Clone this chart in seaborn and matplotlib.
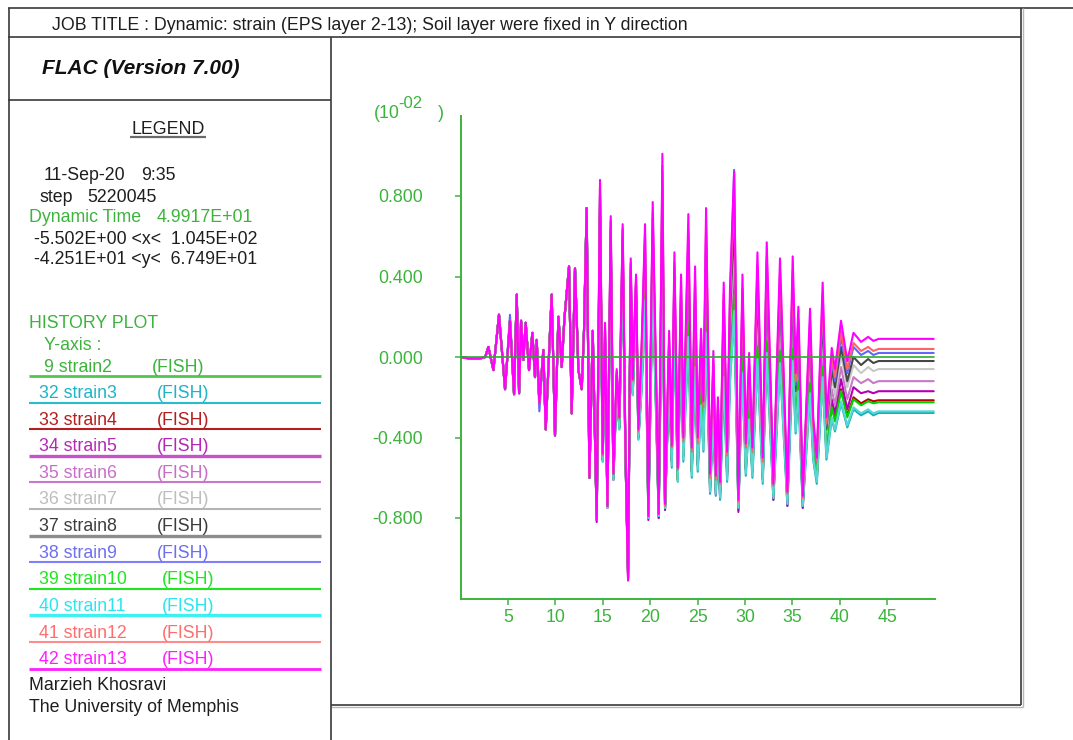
import matplotlib
matplotlib.use("Agg")
import matplotlib.pyplot as plt
import numpy as np
import pandas as pd
import seaborn as sns

# ---------------------------------------------------------------- data
# dynamic time (s) at the sampled turning points of the histories
time_s = [0.00, 1.00, 2.00, 2.60, 2.93, 3.46, 4.05, 4.69, 5.21, 5.64, 5.92, 6.17, 6.38, 6.62,
          6.87, 7.22, 7.57, 7.85, 8.03, 8.31, 8.73, 8.98, 9.26, 9.61, 9.96, 10.32, 10.67, 10.95,
          11.44, 11.72, 12.07, 12.43, 12.78, 13.02, 13.30, 13.59, 13.94, 14.36, 14.71, 14.99,
          15.24, 15.49, 15.84, 16.12, 16.47, 16.75, 17.10, 17.39, 17.67, 17.95, 18.16, 18.51,
          18.76, 19.11, 19.46, 19.81, 20.27, 20.62, 20.90, 21.29, 21.57, 22.00, 22.28, 22.56,
          22.91, 23.26, 23.50, 24.03, 24.39, 24.74, 25.02, 25.37, 25.62, 25.90, 26.32, 26.67,
          26.92, 27.15, 27.38, 27.76, 28.12, 28.43, 28.86, 29.31, 29.74, 30.09, 30.44, 30.79,
          31.32, 31.88, 32.30, 33.00, 33.70, 34.48, 35.04, 35.35, 35.64, 36.10, 36.87, 37.20,
          37.58, 38.20, 38.60, 39.16, 39.50, 40.14, 40.80, 41.45, 42.25, 43.00, 43.55, 44.10,
          49.917]

# strain histories, units of 1e-2
strain2_t = [0.0, 49.917]
strain2 = [0.0, 0.0]

strain3 = [0.0, -0.008, -0.008, 0.0, 0.05, -0.065, 0.21, -0.16, 0.18, -0.185, 0.31, -0.18, 0.18, -0.015,
           0.17, -0.065, 0.12, -0.10, 0.085, -0.23, 0.035, -0.36, -0.06, 0.31, -0.39, 0.20, -0.05, 0.19,
           0.45, -0.28, 0.44, -0.065, -0.16, 0.13, 0.74, -0.60, 0.13,
           -0.81, 0.68, -0.52, 0.05, -0.75, 0.52, -0.61, -0.15, -0.36, 0.48, -0.49, -1.07, 0.33, -0.19, 0.26, -0.41,
           -0.16, 0.27, -0.80, 0.35, -0.28, -0.80, 0.53, -0.76, -0.12, -0.55, 0.16, -0.62, 0.08, -0.52,
           0.09, -0.60, -0.06, -0.57, -0.25, -0.47, 0.11, -0.68, -0.32, -0.69, -0.45, -0.71, -0.11, -0.62,
           -0.12, 0.22, -0.76, -0.09, -0.59, -0.32, -0.60, -0.02, -0.63, 0.01, -0.71, -0.04, -0.74, -0.03,
           -0.38, -0.18, -0.75, -0.19, -0.51, -0.63, -0.11, -0.51, -0.31, -0.37, -0.23, -0.35, -0.26, -0.29,
           -0.27, -0.29, -0.278, -0.278]

strain4 = [0.0, -0.008, -0.008, 0.0, 0.05, -0.065, 0.21, -0.16, 0.18, -0.185, 0.31, -0.18, 0.18, -0.015,
           0.17, -0.065, 0.12, -0.10, 0.085, -0.23, 0.035, -0.36, -0.06, 0.31, -0.39, 0.20, -0.05, 0.19,
           0.45, -0.28, 0.44, -0.065, -0.16, 0.13, 0.74, -0.60, 0.13,
           -0.80, 0.70, -0.51, 0.07, -0.74, 0.54, -0.60, -0.14, -0.35, 0.51, -0.48, -1.07, 0.36, -0.18, 0.28, -0.40,
           -0.12, 0.33, -0.78, 0.41, -0.24, -0.78, 0.60, -0.74, -0.08, -0.51, 0.22, -0.60, 0.14, -0.48,
           0.18, -0.56, 0.02, -0.53, -0.18, -0.41, 0.20, -0.64, -0.25, -0.65, -0.40, -0.67, -0.04, -0.57,
           -0.04, 0.32, -0.73, -0.01, -0.55, -0.26, -0.56, 0.06, -0.59, 0.09, -0.68, 0.04, -0.70, 0.05,
           -0.32, -0.11, -0.72, -0.12, -0.47, -0.59, -0.04, -0.47, -0.24, -0.31, -0.16, -0.29, -0.20, -0.23,
           -0.21, -0.22, -0.215, -0.215]

strain5 = [0.0, -0.008, -0.008, 0.0, 0.05, -0.065, 0.21, -0.16, 0.18, -0.185, 0.31, -0.18, 0.18, -0.015,
           0.17, -0.065, 0.12, -0.10, 0.085, -0.23, 0.035, -0.36, -0.06, 0.31, -0.39, 0.20, -0.05, 0.19,
           0.45, -0.28, 0.44, -0.065, -0.16, 0.13, 0.74, -0.60, 0.13,
           -0.82, 0.74, -0.51, 0.08, -0.75, 0.57, -0.61, -0.13, -0.35, 0.54, -0.49, -1.10, 0.38, -0.17, 0.31, -0.40,
           -0.09, 0.39, -0.81, 0.48, -0.22, -0.80, 0.68, -0.76, -0.05, -0.52, 0.28, -0.61, 0.18, -0.49,
           0.29, -0.57, 0.09, -0.54, -0.14, -0.40, 0.31, -0.67, -0.22, -0.68, -0.39, -0.70, 0.03, -0.59,
           0.03, 0.44, -0.77, 0.06, -0.56, -0.23, -0.57, 0.14, -0.61, 0.18, -0.71, 0.12, -0.74, 0.13,
           -0.30, -0.06, -0.75, -0.06, -0.46, -0.61, 0.03, -0.46, -0.21, -0.28, -0.11, -0.26, -0.15, -0.18,
           -0.17, -0.18, -0.17, -0.17]

strain6 = [0.0, -0.008, -0.008, 0.0, 0.05, -0.065, 0.21, -0.16, 0.18, -0.185, 0.31, -0.18, 0.18, -0.015,
           0.17, -0.065, 0.12, -0.10, 0.085, -0.23, 0.035, -0.36, -0.06, 0.31, -0.39, 0.20, -0.05, 0.19,
           0.45, -0.28, 0.44, -0.065, -0.16, 0.13, 0.74, -0.60, 0.13,
           -0.81, 0.77, -0.51, 0.10, -0.75, 0.60, -0.60, -0.11, -0.34, 0.56, -0.48, -1.09, 0.40, -0.16, 0.33, -0.39,
           -0.05, 0.44, -0.80, 0.54, -0.19, -0.79, 0.74, -0.75, -0.01, -0.50, 0.32, -0.59, 0.23, -0.47,
           0.36, -0.54, 0.16, -0.50, -0.08, -0.36, 0.39, -0.64, -0.17, -0.65, -0.35, -0.67, 0.10, -0.56,
           0.09, 0.53, -0.74, 0.13, -0.53, -0.17, -0.54, 0.22, -0.58, 0.25, -0.68, 0.19, -0.71, 0.20,
           -0.25, 0.01, -0.73, 0.00, -0.42, -0.58, 0.10, -0.42, -0.16, -0.24, -0.05, -0.21, -0.10, -0.13,
           -0.11, -0.13, -0.12, -0.12]

strain7 = [0.0, -0.008, -0.008, 0.0, 0.05, -0.065, 0.21, -0.16, 0.18, -0.185, 0.31, -0.18, 0.18, -0.015,
           0.17, -0.065, 0.12, -0.10, 0.085, -0.23, 0.035, -0.36, -0.06, 0.31, -0.39, 0.20, -0.05, 0.19,
           0.45, -0.28, 0.44, -0.065, -0.16, 0.13, 0.74, -0.60, 0.13,
           -0.81, 0.79, -0.50, 0.12, -0.74, 0.62, -0.59, -0.10, -0.32, 0.58, -0.47, -1.09, 0.42, -0.15, 0.35, -0.38,
           -0.02, 0.49, -0.79, 0.59, -0.16, -0.78, 0.80, -0.73, 0.03, -0.48, 0.37, -0.57, 0.27, -0.44,
           0.45, -0.51, 0.23, -0.47, -0.02, -0.32, 0.47, -0.61, -0.11, -0.62, -0.30, -0.65, 0.17, -0.52,
           0.16, 0.62, -0.72, 0.20, -0.49, -0.12, -0.51, 0.29, -0.55, 0.33, -0.65, 0.26, -0.69, 0.27,
           -0.20, 0.07, -0.70, 0.06, -0.38, -0.55, 0.17, -0.38, -0.10, -0.19, 0.01, -0.15, -0.04, -0.08,
           -0.05, -0.07, -0.06, -0.06]

strain8 = [0.0, -0.008, -0.008, 0.0, 0.05, -0.065, 0.21, -0.16, 0.18, -0.185, 0.31, -0.18, 0.18, -0.015,
           0.17, -0.065, 0.12, -0.10, 0.085, -0.23, 0.035, -0.36, -0.06, 0.31, -0.39, 0.20, -0.05, 0.19,
           0.45, -0.28, 0.44, -0.065, -0.16, 0.13, 0.74, -0.60, 0.13,
           -0.81, 0.81, -0.49, 0.13, -0.74, 0.64, -0.59, -0.09, -0.32, 0.60, -0.46, -1.09, 0.44, -0.14, 0.36, -0.37,
           0.01, 0.53, -0.78, 0.63, -0.14, -0.77, 0.85, -0.73, 0.05, -0.47, 0.41, -0.57, 0.31, -0.43,
           0.51, -0.49, 0.29, -0.44, 0.02, -0.29, 0.54, -0.60, -0.07, -0.61, -0.27, -0.63, 0.22, -0.50,
           0.21, 0.69, -0.71, 0.25, -0.47, -0.08, -0.49, 0.35, -0.53, 0.39, -0.64, 0.32, -0.68, 0.33,
           -0.17, 0.12, -0.69, 0.11, -0.36, -0.53, 0.22, -0.36, -0.06, -0.15, 0.05, -0.12, 0.00, -0.04,
           -0.01, -0.03, -0.02, -0.02]

strain9 = [0.0, -0.008, -0.008, 0.0, 0.05, -0.065, 0.21, -0.16, 0.21, -0.185, 0.31, -0.18, 0.18, -0.015,
           0.17, -0.065, 0.12, -0.10, 0.085, -0.27, 0.035, -0.36, -0.06, 0.31, -0.39, 0.20, -0.05, 0.19,
           0.45, -0.28, 0.44, -0.065, -0.16, 0.13, 0.74, -0.60, 0.13,
           -0.81, 0.84, -0.49, 0.15, -0.74, 0.67, -0.59, -0.08, -0.31, 0.63, -0.46, -1.11, 0.46, -0.13, 0.38, -0.37,
           0.03, 0.59, -0.80, 0.69, -0.12, -0.79, 0.92, -0.74, 0.08, -0.46, 0.45, -0.57, 0.35, -0.42,
           0.60, -0.48, 0.35, -0.44, 0.07, -0.27, 0.62, -0.60, -0.04, -0.61, -0.25, -0.64, 0.28, -0.50,
           0.27, 0.93, -0.73, 0.32, -0.47, -0.05, -0.48, 0.42, -0.53, 0.47, -0.65, 0.39, -0.69, 0.40,
           -0.14, 0.17, -0.71, 0.16, -0.34, -0.53, 0.28, -0.34, -0.02, -0.12, 0.10, -0.08, 0.05, 0.01,
           0.03, 0.01, 0.02, 0.02]

strain10 = [0.0, -0.008, -0.008, 0.0, 0.05, -0.065, 0.21, -0.16, 0.18, -0.185, 0.31, -0.18, 0.18, -0.015,
            0.17, -0.065, 0.12, -0.10, 0.085, -0.23, 0.035, -0.36, -0.06, 0.31, -0.39, 0.20, -0.05, 0.19,
            0.45, -0.28, 0.44, -0.065, -0.16, 0.13, 0.74, -0.60, 0.13,
            -0.80, 0.70, -0.51, 0.07, -0.74, 0.54, -0.60, -0.14, -0.35, 0.51, -0.48, -1.07, 0.36, -0.18, 0.28, -0.40,
            -0.13, 0.32, -0.79, 0.40, -0.25, -0.79, 0.59, -0.75, -0.09, -0.52, 0.21, -0.61, 0.13, -0.49,
            0.17, -0.57, 0.01, -0.54, -0.19, -0.42, 0.19, -0.65, -0.26, -0.66, -0.41, -0.68, -0.05, -0.58,
            -0.05, 0.31, -0.74, -0.02, -0.56, -0.27, -0.57, 0.05, -0.60, 0.08, -0.69, 0.03, -0.71, 0.04,
            -0.33, -0.12, -0.73, -0.13, -0.48, -0.60, -0.05, -0.48, -0.25, -0.32, -0.17, -0.30, -0.21, -0.24,
            -0.22, -0.23, -0.225, -0.225]

strain11 = [0.0, -0.008, -0.008, 0.0, 0.05, -0.065, 0.21, -0.16, 0.18, -0.185, 0.31, -0.18, 0.18, -0.015,
            0.17, -0.065, 0.12, -0.10, 0.085, -0.23, 0.035, -0.36, -0.06, 0.31, -0.39, 0.20, -0.05, 0.19,
            0.45, -0.28, 0.44, -0.065, -0.16, 0.13, 0.74, -0.60, 0.13,
            -0.81, 0.68, -0.52, 0.05, -0.75, 0.52, -0.61, -0.15, -0.36, 0.48, -0.49, -1.07, 0.33, -0.19, 0.26, -0.41,
            -0.15, 0.28, -0.80, 0.36, -0.27, -0.79, 0.54, -0.75, -0.11, -0.54, 0.17, -0.62, 0.09, -0.51,
            0.10, -0.59, -0.05, -0.56, -0.24, -0.46, 0.12, -0.67, -0.31, -0.68, -0.44, -0.70, -0.10, -0.61,
            -0.11, 0.23, -0.75, -0.08, -0.58, -0.31, -0.59, -0.01, -0.62, 0.02, -0.70, -0.03, -0.73, -0.02,
            -0.37, -0.17, -0.74, -0.18, -0.50, -0.62, -0.10, -0.50, -0.30, -0.36, -0.22, -0.34, -0.25, -0.28,
            -0.26, -0.28, -0.27, -0.27]

strain12 = [0.0, -0.008, -0.008, 0.0, 0.05, -0.065, 0.21, -0.16, 0.18, -0.185, 0.31, -0.18, 0.18, -0.015,
            0.17, -0.065, 0.12, -0.10, 0.085, -0.23, 0.035, -0.36, -0.06, 0.31, -0.39, 0.20, -0.05, 0.19,
            0.45, -0.28, 0.44, -0.065, -0.16, 0.13, 0.74, -0.60, 0.13,
            -0.81, 0.85, -0.49, 0.15, -0.74, 0.68, -0.58, -0.07, -0.31, 0.64, -0.46, -1.11, 0.47, -0.12, 0.39, -0.37,
            0.05, 0.61, -0.79, 0.72, -0.11, -0.78, 0.95, -0.74, 0.10, -0.45, 0.47, -0.56, 0.37, -0.42,
            0.63, -0.47, 0.38, -0.43, 0.09, -0.25, 0.66, -0.60, -0.02, -0.61, -0.24, -0.63, 0.31, -0.49,
            0.30, 0.83, -0.72, 0.34, -0.45, -0.03, -0.47, 0.45, -0.52, 0.50, -0.64, 0.42, -0.68, 0.43,
            -0.12, 0.19, -0.70, 0.18, -0.33, -0.52, 0.31, -0.33, 0.00, -0.10, 0.13, -0.06, 0.07, 0.03,
            0.05, 0.03, 0.04, 0.04]

strain13 = [0.0, -0.008, -0.008, 0.0, 0.05, -0.065, 0.21, -0.16, 0.18, -0.185, 0.31, -0.18, 0.18, -0.015,
            0.17, -0.065, 0.12, -0.10, 0.085, -0.23, 0.035, -0.36, -0.06, 0.31, -0.39, 0.20, -0.05, 0.19,
            0.45, -0.28, 0.44, -0.065, -0.16, 0.13, 0.74, -0.60, 0.13,
            -0.81, 0.88, -0.48, 0.17, -0.74, 0.70, -0.58, -0.06, -0.30, 0.66, -0.45, -1.11, 0.49, -0.11, 0.41, -0.36,
            0.08, 0.66, -0.79, 0.77, -0.08, -0.78, 1.01, -0.73, 0.13, -0.44, 0.52, -0.55, 0.41, -0.40,
            0.71, -0.45, 0.45, -0.40, 0.14, -0.22, 0.74, -0.58, 0.03, -0.59, -0.20, -0.62, 0.37, -0.47,
            0.36, 0.92, -0.71, 0.41, -0.43, 0.02, -0.45, 0.52, -0.50, 0.57, -0.63, 0.49, -0.67, 0.50,
            -0.08, 0.25, -0.69, 0.24, -0.30, -0.50, 0.37, -0.30, 0.045, -0.06, 0.18, -0.02, 0.12, 0.075,
            0.10, 0.08, 0.09, 0.09]

history_ids = [9, 32, 33, 34, 35, 36, 37, 38, 39, 40, 41, 42]
history_names = ["strain2", "strain3", "strain4", "strain5", "strain6", "strain7",
                 "strain8", "strain9", "strain10", "strain11", "strain12", "strain13"]
x_ticks = [5, 10, 15, 20, 25, 30, 35, 40, 45]
y_ticks = [-0.8, -0.4, 0.0, 0.4, 0.8]

# ---------------------------------------------------------------- styling
line_colors = ["#2aae2a", "#18b0b4", "#c00000", "#b400b4", "#c878c8", "#c8c8c8",
               "#464646", "#6464ff", "#00d200", "#58d6d6", "#ff6464", "#ff00ff"]
text_colors = ["#3cb43c", "#1eb4c8", "#b41e1e", "#b428b4", "#c86ec8", "#bebebe",
               "#3c3c3c", "#6e6ef0", "#1ee61e", "#28e6f0", "#ff6e6e", "#ff1eff"]
rule_colors = ["#50c850", "#28bec8", "#b41e1e", "#c850c8", "#c878c8", "#b4b4b4",
               "#8c8c8c", "#8080ff", "#1ee61e", "#40f0f0", "#ff8c8c", "#ff1eff"]
rule_widths = [2.0, 1.5, 1.5, 2.4, 1.5, 1.5, 2.4, 1.5, 1.5, 2.4, 1.5, 2.0]
GREEN = "#3cb43c"
INK = "#1e1e1e"
FRAME = "#3a3a3a"
FS = 12.8

sns.set_theme(style="white")
plt.rcParams["font.family"] = ["Liberation Sans", "DejaVu Sans"]
plt.rcParams["axes.unicode_minus"] = False

# ---------------------------------------------------------------- long-form table
series_values = [strain2, strain3, strain4, strain5, strain6, strain7, strain8,
                 strain9, strain10, strain11, strain12, strain13]
frames = []
for name, vals in zip(history_names, series_values):
    t = strain2_t if name == "strain2" else time_s
    frames.append(pd.DataFrame({"time": t, "strain": vals, "history": name}))
df = pd.concat(frames, ignore_index=True)

# ---------------------------------------------------------------- figure
W, H = 1073, 740
fig = plt.figure(figsize=(W / 100, H / 100), dpi=100)
fig.patch.set_facecolor("white")

# page layer in pixel coordinates (boxes, header and legend panel)
page = fig.add_axes([0, 0, 1, 1])
page.set_xlim(0, W)
page.set_ylim(H, 0)
page.axis("off")


def hline(y, x0, x1, color=FRAME, lw=1.2):
    page.plot([x0, x1], [y, y], color=color, lw=lw, solid_capstyle="butt")


def vline(x, y0, y1, color=FRAME, lw=1.2):
    page.plot([x, x], [y0, y1], color=color, lw=lw, solid_capstyle="butt")


hline(8, 8, W)
hline(37, 8, 1021)
hline(100, 8, 331)
hline(705, 331, 1021)
hline(707, 331, 1023, color="#b8b8b8", lw=1.0)
vline(8.5, 8, H)
vline(331, 37, H)
vline(1021, 8, 705)
vline(1023, 8, 707, color="#b8b8b8", lw=1.0)

TEXT_DY = 2.0  # centre of the glyph box sits slightly below the line centre


def txt(x, y, s, color=INK, size=FS, **kw):
    page.text(x, y + TEXT_DY, s, color=color, fontsize=size, ha=kw.pop("ha", "left"),
              va=kw.pop("va", "center"), **kw)


txt(52, 24, "JOB TITLE : Dynamic: strain (EPS layer 2-13); Soil layer were fixed in Y direction")
txt(42, 67, "FLAC (Version 7.00)", size=15, fontweight="bold", fontstyle="italic", color="#111111")

txt(168, 128, "LEGEND", ha="center")
hline(137, 130, 206, color="#6a6a6a", lw=1.6)

txt(44, 173, "11-Sep-20")
txt(141, 173, "9:35")
txt(39, 195, "step")
txt(87, 195, "5220045")
txt(29, 216, "Dynamic Time", color=GREEN)
txt(157, 216, "4.9917E+01", color=GREEN)
txt(34, 237, "-5.502E+00 <x<  1.045E+02")
txt(34, 258, "-4.251E+01 <y<  6.749E+01")

txt(29, 322, "HISTORY PLOT", color=GREEN)
txt(44, 343, "Y-axis :", color=GREEN)

row0, row_step = 365, 26.6
for i, (hid, name) in enumerate(zip(history_ids, history_names)):
    yc = row0 + i * row_step
    label_x = 44 if hid < 10 else 39
    fish_x = 152 if hid < 10 else (157 if hid < 39 else 162)
    txt(label_x, yc, f"{hid} {name}", color=text_colors[i])
    txt(fish_x, yc, "(FISH)", color=text_colors[i])
    hline(yc + 11, 29, 321, color=rule_colors[i], lw=rule_widths[i])

txt(29, 683, "Marzieh Khosravi")
txt(29, 705, "The University of Memphis")

# axis multiplier
txt(374, 111, "(10", color=GREEN)
txt(398.5, 102, "-02", color=GREEN, size=12)
txt(438, 111, ")", color=GREEN)

# ---------------------------------------------------------------- history plot
ax = fig.add_axes([460.6 / W, (H - 598.5) / H, 473.9 / W, 483.0 / H])
ax.patch.set_alpha(0)
sns.lineplot(data=df, x="time", y="strain", hue="history", hue_order=history_names,
             palette=dict(zip(history_names, line_colors)), estimator=None, sort=False,
             legend=False, linewidth=1.5, ax=ax)
# zero-strain history sits over the other traces
ax.lines[0].set_zorder(3)
ax.lines[0].set_linewidth(1.2)

ax.set_xlim(0, 50.0)
ax.set_ylim(-1.2, 1.2)
ax.set_xticks(x_ticks)
ax.set_xticklabels([str(v) for v in x_ticks])
ax.set_yticks(y_ticks)
ax.set_yticklabels([f"{v:.3f}" for v in y_ticks])
ax.set_xlabel("")
ax.set_ylabel("")
for side in ("top", "right"):
    ax.spines[side].set_visible(False)
for side in ("left", "bottom"):
    ax.spines[side].set_color(GREEN)
    ax.spines[side].set_linewidth(1.4)
ax.tick_params(axis="both", direction="out", length=4.3, width=1.1, color=GREEN,
               labelcolor=GREEN, labelsize=FS)
ax.tick_params(axis="y", pad=23.0, left=True)
ax.tick_params(axis="x", pad=3.2, bottom=True)
ax.grid(False)

fig.savefig("out.png", dpi=100)
